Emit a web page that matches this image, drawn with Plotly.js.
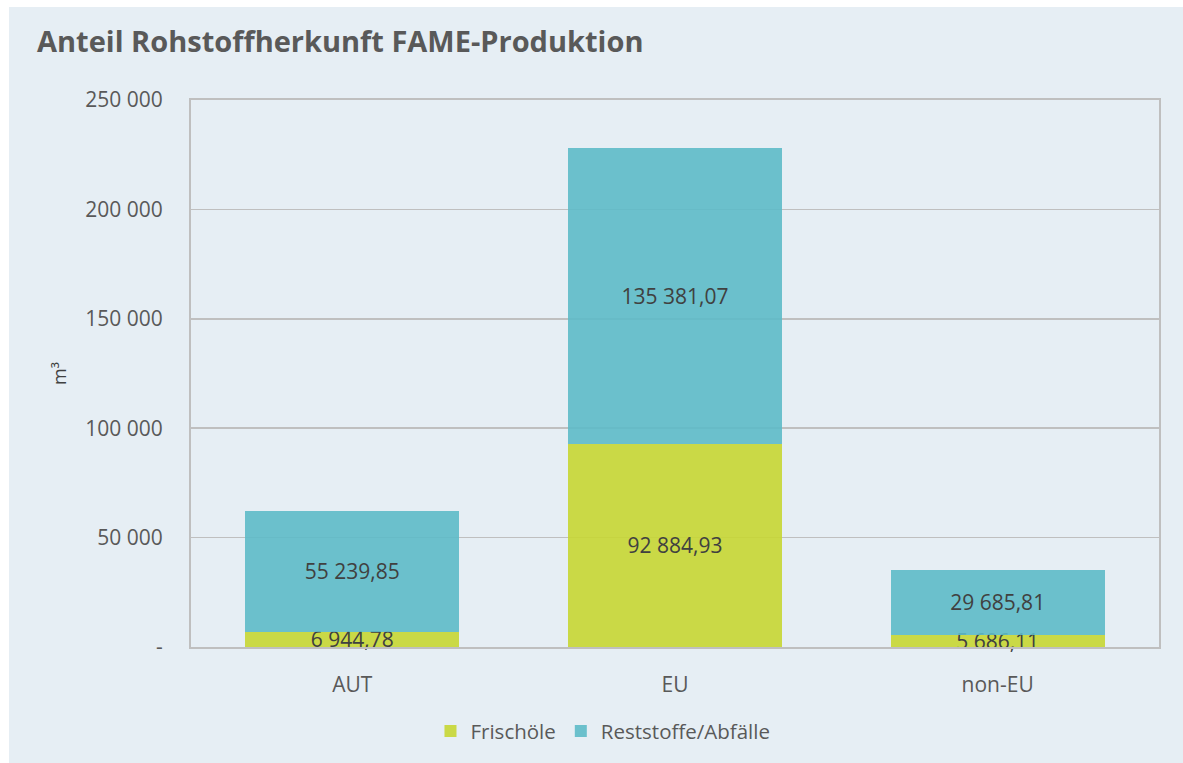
<!DOCTYPE html>
<html>
<head>
<meta charset="utf-8">
<script src="https://cdn.plot.ly/plotly-3.0.1.min.js"></script>
<style>
  html, body { margin: 0; padding: 0; background: #ffffff; width: 1183px; height: 763px; overflow: hidden; }
  #chart { position: absolute; left: 9px; top: 7px; width: 1174px; height: 756px; }
</style>
</head>
<body>
<div id="chart"></div>
<script>
const categories = ["AUT", "EU", "non-EU"];
const frischoele = [6944.78, 92884.93, 5686.11];
const reststoffe = [55239.85, 135381.07, 29685.81];
const tickValues = [0, 50000, 100000, 150000, 200000, 250000];
const tickLabels = ["-", "50 000", "100 000", "150 000", "200 000", "250 000"];
const seriesNames = ["Frischöle", "Reststoffe/Abfälle"];

const FONT = "'Open Sans', 'Noto Sans', sans-serif";

function common(color) {
  return {
    type: "bar",
    x: categories,
    marker: { color: color, line: { width: 0 } },
    texttemplate: "%{y:,.2f}",
    textposition: "inside",
    insidetextanchor: "middle",
    constraintext: "none",
    textangle: 0,
    insidetextfont: { family: FONT, size: 21, color: "#404040" },
    hoverinfo: "x+y+name",
    cliponaxis: false
  };
}

const traces = [
  Object.assign(common("rgba(198,214,51,0.9)"), { name: seriesNames[0], y: frischoele }),
  Object.assign(common("rgba(93,186,200,0.9)"), { name: seriesNames[1], y: reststoffe })
];

const layout = {
  width: 1174,
  height: 756,
  paper_bgcolor: "#e6eef4",
  plot_bgcolor: "#e6eef4",
  separators: ", ",
  barmode: "stack",
  bargap: 0.337,
  margin: { l: 182, r: 24, t: 93, b: 116, autoexpand: false },
  font: { family: FONT, color: "#595959", size: 21 },
  title: {
    text: "<b>Anteil Rohstoffherkunft FAME-Produktion</b>",
    font: { family: FONT, size: 29, color: "#595959" },
    x: 0.0239, xref: "container", xanchor: "left",
    y: 0.954, yref: "container", yanchor: "middle"
  },
  xaxis: {
    showgrid: false,
    showline: true, mirror: true, linecolor: "#bfbfbf", linewidth: 2,
    ticks: "",
    ticklabelstandoff: 18,
    tickfont: { family: FONT, size: 21, color: "#595959" },
    fixedrange: true
  },
  yaxis: {
    range: [0, 250000],
    tickvals: tickValues,
    ticktext: tickLabels,
    showgrid: true, gridcolor: "#bfbfbf", gridwidth: 1.5,
    showline: true, mirror: true, linecolor: "#bfbfbf", linewidth: 2,
    zeroline: false,
    ticks: "",
    ticklabelstandoff: 22,
    tickfont: { family: FONT, size: 21, color: "#595959" },
    title: { text: "m³", font: { family: FONT, size: 18, color: "#404040" }, standoff: 14 },
    automargin: false,
    fixedrange: true
  },
  showlegend: true,
  legend: {
    orientation: "h",
    x: 0.4256, xanchor: "center",
    y: -0.154, yanchor: "middle",
    font: { family: FONT, size: 20.5, color: "#595959" },
    bgcolor: "rgba(0,0,0,0)",
    itemwidth: 30,
    traceorder: "normal"
  }
};

Plotly.newPlot("chart", traces, layout, { displayModeBar: false, staticPlot: true });
</script>
</body>
</html>
